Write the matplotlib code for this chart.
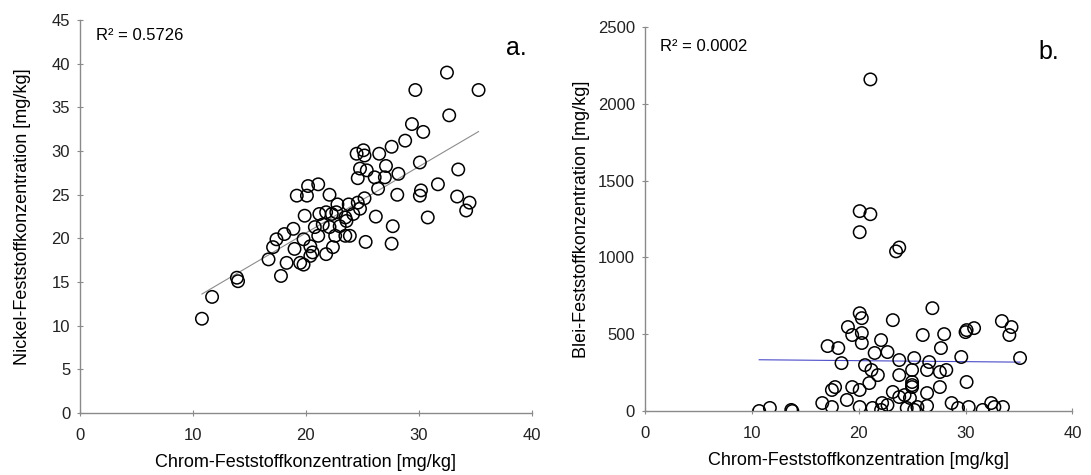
import numpy as np
import matplotlib

matplotlib.use("Agg")
import matplotlib.pyplot as plt

plt.rcParams["font.family"] = ["Liberation Sans", "DejaVu Sans"]

# panel a: Chrom vs Nickel [mg/kg]
chrom_a = [10.8, 11.7, 13.9, 14.0,
           24.5, 25.1, 25.2, 26.5, 27.6, 28.8, 29.4, 30.4, 32.7, 30.1,
           24.8, 25.4, 27.1, 28.2, 26.1, 24.6, 27.0, 33.5, 31.7,
           19.2, 20.1, 20.2, 21.1, 22.1, 22.8, 23.8, 24.6, 25.2, 26.4,
           28.1, 30.2, 30.1, 33.4, 34.5, 34.2,
           19.9, 21.2, 22.3, 23.5, 23.6, 21.5, 22.1, 23.0, 23.9, 26.2,
           27.7, 30.8, 18.9, 18.1, 17.4, 17.1, 16.7, 19.0, 19.8, 20.4,
           20.6, 19.5, 19.8, 18.3, 17.8, 21.8, 22.4, 23.5, 25.3, 27.6,
           21.8, 22.7, 20.8, 24.2, 24.8, 22.6, 21.1, 20.4,
           29.7, 35.3, 32.5]
nickel_a = [10.8, 13.3, 15.5, 15.1,
            29.7, 30.1, 29.5, 29.7, 30.5, 31.2, 33.1, 32.2, 34.1, 28.7,
            28.0, 27.8, 28.3, 27.4, 27.0, 26.9, 27.0, 27.9, 26.2,
            24.9, 24.9, 26.0, 26.2, 25.0, 23.9, 23.9, 24.1, 24.6, 25.7,
            25.0, 25.5, 24.9, 24.8, 24.1, 23.2,
            22.6, 22.8, 22.8, 22.4, 22.0, 21.6, 21.3, 21.4, 20.3, 22.5,
            21.4, 22.4, 21.1, 20.5, 19.9, 19.0, 17.6, 18.8, 19.9, 19.1,
            18.4, 17.2, 17.0, 17.2, 15.7, 18.2, 19.0, 20.3, 19.6, 19.4,
            23.0, 23.0, 21.3, 22.8, 23.4, 20.3, 20.3, 18.0,
            37.0, 37.0, 39.0]

# panel b: Chrom vs Blei [mg/kg]
chrom_b = [21.1, 20.1, 21.1, 20.1, 23.5, 23.8,
           23.2, 20.1, 20.3, 19.0, 19.4, 20.3, 20.3, 22.1, 17.1, 18.1, 18.4,
           21.5, 22.7, 23.8, 25.2, 26.0, 20.6, 21.2, 21.8, 21.0, 23.8, 25.0,
           26.4, 17.8, 17.5, 19.4, 20.1, 18.9, 16.6, 17.5, 20.1, 21.3, 22.1,
           22.7, 23.2, 23.8, 24.8, 25.0, 24.5, 25.2, 10.7, 11.7, 13.7, 13.8,
           26.9, 28.0, 27.7, 30.0, 30.8, 30.1, 33.4, 34.3, 34.1, 35.1, 29.6,
           26.6, 27.6, 28.2, 25.0, 25.0, 24.3, 26.4, 27.6, 30.1, 22.2, 25.5,
           26.4, 28.7, 29.3, 30.3, 31.6, 32.4, 32.7, 33.5]
blei_b = [2160, 1302, 1282, 1165, 1040, 1065,
          592, 637, 605, 547, 495, 443, 508, 462, 423, 410, 312,
          378, 384, 332, 345, 495, 299, 267, 234, 182, 234, 267,
          267, 156, 137, 156, 137, 72, 52, 26, 26, 20, 7,
          39, 124, 91, 85, 169, 20, 7, 0, 20, 7, 0,
          670, 501, 410, 514, 540, 527, 586, 547, 495, 345, 352,
          319, 254, 267, 189, 156, 104, 117, 156, 189, 52, 26,
          33, 52, 20, 26, 7, 52, 26, 26]

AXIS_GREY = "#8a8a8a"


def style_axes(ax):
    for s in ("top", "right"):
        ax.spines[s].set_visible(False)
    for s in ("left", "bottom"):
        ax.spines[s].set_color(AXIS_GREY)
        ax.spines[s].set_linewidth(1.0)
    ax.tick_params(direction="inout", length=4, width=0.8, color=AXIS_GREY,
                   labelsize=12, labelcolor="#222222", pad=5)
    ax.tick_params(axis="x", pad=9)


def panel(ax, x, y, line_color, r2, r2_pos, letter, letter_pos, ylabel, ylabelpad,
          ylim, yticks):
    x = np.asarray(x, float)
    y = np.asarray(y, float)
    ax.scatter(x, y, s=80, facecolors="none", edgecolors="black", linewidths=1.1,
               zorder=3)
    k, d = np.polyfit(x, y, 1)
    xs = np.array([x.min(), x.max()])
    ax.plot(xs, k * xs + d, color=line_color, lw=0.8, zorder=2)
    ax.set_xlim(0, 40)
    ax.set_ylim(*ylim)
    ax.set_xticks([0, 10, 20, 30, 40])
    ax.set_yticks(yticks)
    ax.set_xlabel("Chrom-Feststoffkonzentration [mg/kg]", fontsize=13, labelpad=8)
    ax.set_ylabel(ylabel, fontsize=13, labelpad=ylabelpad)
    ax.text(*r2_pos, f"R² = {r2}", transform=ax.transAxes, fontsize=12,
            ha="left", va="center")
    ax.text(*letter_pos, letter, transform=ax.transAxes, fontsize=18,
            ha="right", va="center")
    style_axes(ax)


fig = plt.figure(figsize=(10.91, 4.75), dpi=100)
ax_a = fig.add_axes([0.0733, 0.1305, 0.414, 0.827])
ax_b = fig.add_axes([0.591, 0.1347, 0.392, 0.808])

panel(ax_a, chrom_a, nickel_a, "#8c8c8c", "0.5726", (0.035, 0.962), "a.", (0.99, 0.928),
      "Nickel-Feststoffkonzentration [mg/kg]", 15, (0, 45), range(0, 46, 5))
panel(ax_b, chrom_b, blei_b, "#4a4ac8", "0.0002", (0.035, 0.95), "b.", (0.97, 0.935),
      "Blei-Feststoffkonzentration [mg/kg]", 6, (0, 2500), range(0, 2501, 500))

fig.savefig("out.png", dpi=100)
